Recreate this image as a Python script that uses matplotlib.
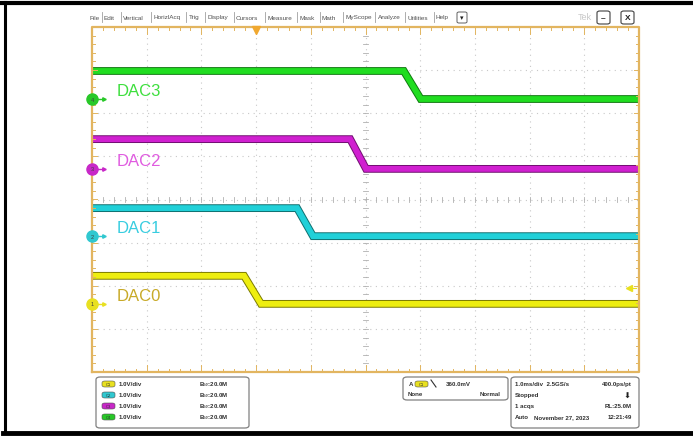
import matplotlib
matplotlib.use("Agg")
from matplotlib import pyplot as plt
from matplotlib.lines import Line2D
from matplotlib.patches import FancyBboxPatch
import matplotlib.patheffects as pe
import numpy as np

plt.rcParams['font.family'] = ['Liberation Sans', 'DejaVu Sans']

# channel settings (1.0 V/div, time in ms, trigger at t=0)
names = ['DAC0', 'DAC1', 'DAC2', 'DAC3']
ch_num = ['1', '2', '3', '4']
offsets = [-2.42, -0.85, 0.71, 2.33]        # ground marker position, div
v_high = [0.65, 0.65, 0.69, 0.65]            # V
v_low = [0.0, 0.0, 0.0, 0.0]                 # V
fall_start = [-0.22, 0.75, 1.72, 2.70]      # ms
fall_end = [0.09, 1.04, 2.01, 3.01]         # ms
t_left, t_right = -3.0, 7.0
trig_level = 0.36                            # V on C1

trace_col = ['#eeee10', '#20d0d8', '#d020d0', '#20dd20']
edge_col = ['#7a7a00', '#107070', '#701070', '#107a10']
label_col = ['#c8aa28', '#38cde0', '#e05ce0', '#3edf3e']
pill_col = ['#e8e020', '#30c8d0', '#c828c8', '#28c828']

frame_col = '#e2b560'
grid_col = '#c8c8c8'

fig = plt.figure(figsize=(6.93, 4.39), dpi=100)
fig.patch.set_facecolor('white')
ax = fig.add_axes([92 / 693, 1 - 373 / 439, 547 / 693, 345 / 439])
ax.set_xlim(t_left, t_right)
ax.set_ylim(-4, 4)
ax.axis('off')

# graticule
for x in np.arange(-2, 7):
    ax.plot([x, x], [-4, 4], color=grid_col, lw=0.8, ls=(0, (1, 4)), zorder=1)
for y in np.arange(-3, 4):
    ax.plot([t_left, t_right], [y, y], color=grid_col, lw=0.8, ls=(0, (1, 4)), zorder=1)
for x in np.arange(t_left, t_right + 0.01, 0.2):
    ax.plot([x, x], [-0.06, 0.06], color='#b0b0b0', lw=0.6, zorder=1)
for y in np.arange(-4, 4.01, 0.2):
    ax.plot([1.96, 2.04], [y, y], color='#b0b0b0', lw=0.6, zorder=1)

# frame with inward ticks
ax.plot([t_left, t_right, t_right, t_left, t_left], [-4, -4, 4, 4, -4],
        color=frame_col, lw=1.6, zorder=5, clip_on=False)
for i, x in enumerate(np.arange(t_left, t_right + 0.01, 0.2)):
    L = 0.16 if i % 5 == 0 else 0.08
    ax.plot([x, x], [4, 4 - L], color=frame_col, lw=0.7, zorder=5)
    ax.plot([x, x], [-4, -4 + L], color=frame_col, lw=0.7, zorder=5)
for i, y in enumerate(np.arange(-4, 4.01, 0.2)):
    L = 0.1 if i % 5 == 0 else 0.05
    ax.plot([t_left, t_left + L], [y, y], color=frame_col, lw=0.7, zorder=5)
    ax.plot([t_right, t_right - L], [y, y], color=frame_col, lw=0.7, zorder=5)

# trigger position marker
ax.plot([0], [3.93], marker='v', color='#f0a830', ms=6, zorder=6, clip_on=False)

# traces
for k in range(4):
    t = [t_left, fall_start[k], fall_end[k], t_right]
    v = [v_high[k], v_high[k], v_low[k], v_low[k]]
    y = [offsets[k] + vv for vv in v]
    ax.plot(t, y, color=trace_col[k], lw=4.2, zorder=3,
            solid_joinstyle='miter',
            path_effects=[pe.Stroke(linewidth=5.6, foreground=edge_col[k]), pe.Normal()])
    ax.text(-2.55, offsets[k] + 0.2, names[k], color=label_col[k], fontsize=12,
            va='center', ha='left', zorder=4)
    # ground marker on the left edge
    ax.plot([t_left], [offsets[k]], marker='o', ms=8, color=pill_col[k], zorder=7, clip_on=False)
    ax.text(t_left, offsets[k], ch_num[k], fontsize=4, ha='center', va='center',
            color='#404040', zorder=8, clip_on=False)
    ax.plot([t_left + 0.1, t_left + 0.22], [offsets[k], offsets[k]], color=pill_col[k],
            lw=1, zorder=7)
    ax.plot([t_left + 0.22], [offsets[k]], marker='>', ms=2.5, color=pill_col[k], zorder=7)

# trigger level arrow on the right
ax.plot([t_right - 0.18], [offsets[0] + trig_level], marker='<', ms=4,
        color='#e8e020', zorder=7)
ax.plot([t_right - 0.18, t_right - 0.05], [offsets[0] + trig_level] * 2,
        color='#e8e020', lw=0.8, zorder=7)

# menu bar
menu = [('File', 89), ('Edit', 104), ('Vertical', 123), ('HorizlAcq', 153), ('Trig', 189),
        ('Display', 207), ('Cursors', 236), ('Measure', 267), ('Mask', 299), ('Math', 322),
        ('MyScope', 345), ('Analyze', 378), ('Utilities', 407), ('Help', 436)]
for i, (s, x) in enumerate(menu):
    fig.text(x / 693, 1 - 18 / 439, s, fontsize=4.6, color='#505050', va='center', ha='left')
    if i > 0:
        fig.add_artist(Line2D([(x - 2.5) / 693] * 2, [1 - 13 / 439, 1 - 23 / 439],
                              color='#a0a0a0', lw=0.6))
fig.add_artist(FancyBboxPatch((457 / 693, 1 - 24 / 439), 10 / 693, 11 / 439,
                              boxstyle='round,pad=0,rounding_size=0.003',
                              fc='white', ec='#606060', lw=0.7))
fig.text(462 / 693, 1 - 18.5 / 439, '▾', fontsize=5, ha='center', va='center', color='#202020')
fig.text(578 / 693, 1 - 18 / 439, 'Tek', fontsize=6.5, color='#c8c8c8', va='center')
for x, s in [(603, '–'), (627, 'X')]:
    fig.add_artist(FancyBboxPatch(((x - 6) / 693, 1 - 25 / 439), 13 / 693, 13 / 439,
                                  boxstyle='round,pad=0,rounding_size=0.004',
                                  fc='white', ec='#404040', lw=0.8))
    fig.text((x + 0.5) / 693, 1 - 18.5 / 439, s, fontsize=6, ha='center', va='center',
             color='#202020', fontweight='bold')


# bottom status panels
def box(x0, y0, x1, y1):
    fig.add_artist(FancyBboxPatch((x0 / 693, 1 - y1 / 439), (x1 - x0) / 693, (y1 - y0) / 439,
                                  boxstyle='round,pad=0,rounding_size=0.006',
                                  fc='white', ec='#808080', lw=0.9))


def txt(x, y, s, ha='left', **kw):
    fig.text(x / 693, 1 - y / 439, s, fontsize=4.4, color='#303030', fontweight='bold',
             va='center', ha=ha, **kw)


def pill(x, y, col, s):
    fig.add_artist(FancyBboxPatch((x / 693, 1 - (y + 3) / 439), 13 / 693, 6 / 439,
                                  boxstyle='round,pad=0,rounding_size=0.004',
                                  fc=col, ec='#505050', lw=0.4))
    fig.text((x + 6.5) / 693, 1 - y / 439, s, fontsize=3, ha='center', va='center',
             color='#303030')


box(96, 378, 249, 429)
for k in range(4):
    y = 385 + 11 * k
    pill(102, y, pill_col[k], 'C' + ch_num[k])
    txt(119, y, '1.0V/div')
    txt(199, y, r'B$_W$:20.0M')

box(403, 378, 508, 401)
txt(409, 385, 'A')
pill(415, 385, pill_col[0], 'C1')
fig.add_artist(Line2D([431 / 693, 436 / 693], [1 - 381 / 439, 1 - 388 / 439],
                      color='#303030', lw=0.8))
txt(446, 385, '360.0mV')
txt(408, 395, 'None')
txt(501, 395, 'Normal', ha='right')

box(511, 378, 639, 429)
txt(515, 385, '1.0ms/div  2.5GS/s')
txt(632, 385, '400.0ps/pt', ha='right')
txt(515, 396, 'Stopped')
fig.text(627 / 693, 1 - 396 / 439, '⬇', fontsize=6, color='#202020',
         ha='center', va='center', family=['DejaVu Sans'])
txt(515, 407, '1 acqs')
txt(632, 407, 'RL:25.0M', ha='right')
txt(515, 418, 'Auto')
txt(534, 418, 'November 27, 2023')
txt(632, 418, '12:21:49', ha='right')

# outer black border
fig.add_artist(Line2D([0, 1], [1 - 3.5 / 439] * 2, color='black', lw=3))
fig.add_artist(Line2D([4.5 / 693] * 2, [1 - 3 / 439, 1 - 433 / 439], color='black', lw=2.2))
fig.add_artist(Line2D([3 / 693, 1], [1 - 433.5 / 439] * 2, color='black', lw=3.5))

fig.savefig('out.png', dpi=100)
